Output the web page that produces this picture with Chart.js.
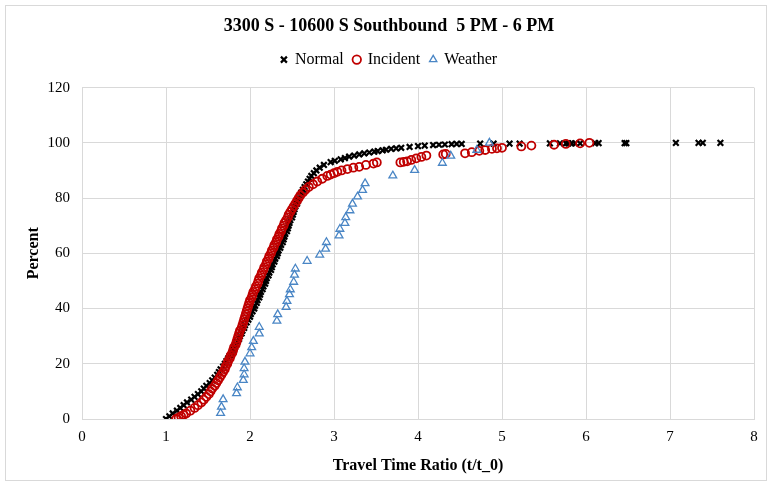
<!DOCTYPE html>
<html>
<head>
<meta charset="utf-8">
<script src="https://cdn.jsdelivr.net/npm/chart.js@4.4.0/dist/chart.umd.min.js"></script>
<style>
  html, body { margin: 0; padding: 0; background: #fff; }
  #wrap { position: relative; width: 772px; height: 485px; }
</style>
</head>
<body>
<div id="wrap"><canvas id="graph"></canvas></div>
<script>
// Normal (black x)
var normalRatio = [1.00,1.04,1.08,1.13,1.17,1.21,1.25,1.30,1.34,1.38,1.42,1.45,1.48,1.52,1.55,1.58,1.61,1.63,1.65,1.68,
  1.70,1.72,1.74,1.76,1.78,1.80,1.82,1.84,1.85,1.87,1.88,1.90,1.91,1.93,1.94,1.96,1.98,2.00,2.01,2.03,
  2.05,2.06,2.08,2.09,2.11,2.12,2.13,2.15,2.16,2.18,2.19,2.20,2.22,2.23,2.25,2.26,2.27,2.29,2.30,2.32,
  2.33,2.34,2.36,2.37,2.39,2.40,2.41,2.42,2.44,2.45,2.46,2.47,2.48,2.50,2.51,2.52,2.53,2.54,2.56,2.57,
  2.58,2.60,2.61,2.63,2.65,2.67,2.69,2.71,2.73,2.76,2.79,2.83,2.88,2.96,3.01,3.08,3.13,3.18,3.24,3.30,
  3.36,3.42,3.48,3.52,3.58,3.62,3.68,3.74,3.80,3.90,4.00,4.08,4.18,4.25,4.32,4.40,4.46,4.52,4.74,4.90,
  5.09,5.21,5.57,5.69,5.76,5.79,5.83,5.87,5.93,6.11,6.15,6.46,6.48,7.07,7.34,7.39,7.60];
var normalPct = [0,1,2,3,4,5,6,7,8,9,10,11,12,13,14,15,16,17,18,19,
  20,21,22,23,24,25,26,27,28,29,30,31,32,33,34,35,36,37,38,39,
  40,41,42,43,44,45,46,47,48,49,50,51,52,53,54,55,56,57,58,59,
  60,61,62,63,64,65,66,67,68,69,70,71,72,73,74,75,76,77,78,79,
  80,81,82,83,84,85,86,87,88,89,90,91,92,93,93.5,94,94.5,95,95.4,95.8,
  96.2,96.5,96.8,97,97.3,97.5,97.8,98,98.2,98.5,98.8,99,99.2,99.3,99.4,99.5,99.6,99.6,99.7,99.7,
  99.7,99.7,99.8,99.8,99.8,99.8,99.8,99.8,99.8,99.9,99.9,99.9,99.9,100,100,100,100];

// Incident (red circles)
var incidentRatio = [1.12,1.15,1.18,1.21,1.24,1.29,1.34,1.38,1.42,1.45,1.48,1.51,1.53,1.55,1.58,1.60,1.62,1.64,1.66,1.68,
  1.70,1.71,1.73,1.74,1.76,1.77,1.79,1.80,1.81,1.83,1.84,1.85,1.86,1.87,1.88,1.90,1.91,1.92,1.93,1.94,
  1.95,1.96,1.97,1.98,1.99,2.00,2.02,2.03,2.04,2.06,2.07,2.09,2.10,2.11,2.13,2.14,2.16,2.17,2.19,2.20,
  2.22,2.23,2.25,2.26,2.28,2.29,2.31,2.32,2.34,2.35,2.37,2.38,2.40,2.41,2.43,2.45,2.46,2.48,2.50,2.52,
  2.54,2.56,2.58,2.60,2.63,2.66,2.70,2.75,2.80,2.86,2.92,2.96,3.00,3.04,3.09,
  3.16,3.23,3.30,3.38,3.47,3.51,3.79,3.83,3.87,3.92,3.98,4.04,4.10,4.30,4.33,4.56,4.64,4.73,4.80,4.88,
  4.94,5.00,5.23,5.35,5.62,5.76,5.93,6.04];
var incidentPct = [0,0.5,1,1.5,2,3,4,5,6,7,8,9,10,11,12,13,14,15,16,17,
  18,19,20,21,22,23,24,25,26,27,28,29,30,31,32,33,34,35,36,37,
  38,39,40,41,42,43,44,45,46,47,48,49,50,51,52,53,54,55,56,57,
  58,59,60,61,62,63,64,65,66,67,68,69,70,71,72,73,74,75,76,77,
  78,79,80,81,82,83,84,85,86,87,88,88.5,89,89.5,90,
  90.5,91,91.3,92,92.5,92.9,92.9,93.1,93.3,93.8,94.4,94.9,95.4,95.8,96,96.2,96.6,97.1,97.4,97.8,
  98,98.2,98.7,99,99.3,99.6,99.8,100];

// Weather (blue triangles)
var weatherRatio = [1.65,1.66,1.68,1.84,1.85,1.92,1.93,1.93,1.94,2.00,2.02,2.04,2.11,2.11,2.32,2.33,2.43,2.44,2.47,2.48,
  2.52,2.53,2.54,2.68,2.83,2.90,2.91,3.06,3.07,3.13,3.14,3.19,3.22,3.28,3.34,3.37,3.70,3.96,4.29,4.39,
  4.70,4.85];
var weatherPct = [2.1,4.4,7.1,9.3,11.4,14.1,16.1,18.3,20.7,23.7,25.9,28.2,30.9,33.3,35.5,37.9,40.5,42.7,45.1,46.9,
  49.6,52.2,54.4,57.2,59.4,61.6,64.0,66.4,68.8,70.9,73.0,75.5,77.9,80.5,82.9,85.3,88.1,90.1,92.7,95.3,
  97.4,100];

var xTicks = [0,1,2,3,4,5,6,7,8];
var yTicks = [0,20,40,60,80,100,120];

function pairs(xs, ys) {
  return xs.map(function (x, i) { return { x: x, y: ys[i] }; });
}

var serif = "'Liberation Serif', 'Times New Roman', serif";

// white background + light frame round the whole chart
var frame = {
  id: 'frame',
  beforeDraw: function (chart) {
    var ctx = chart.ctx;
    ctx.save();
    ctx.fillStyle = '#fff';
    ctx.fillRect(0, 0, chart.width, chart.height);
    ctx.strokeStyle = '#d9d9d9';
    ctx.lineWidth = 1;
    ctx.strokeRect(5.5, 5.5, 761, 475);
    ctx.restore();
  }
};

var config = {
  type: 'scatter',
  data: {
    datasets: [
      {
        label: 'Normal',
        data: pairs(normalRatio, normalPct),
        pointStyle: 'crossRot',
        pointRadius: 4,
        borderWidth: 2.2,
        borderColor: '#000',
        backgroundColor: '#000',
        order: 3
      },
      {
        label: 'Incident',
        data: pairs(incidentRatio, incidentPct),
        pointStyle: 'circle',
        pointRadius: 4,
        borderWidth: 1.8,
        borderColor: '#c00000',
        backgroundColor: 'rgba(0,0,0,0)',
        order: 2
      },
      {
        label: 'Weather',
        data: pairs(weatherRatio, weatherPct),
        pointStyle: 'triangle',
        pointRadius: 4.5,
        borderWidth: 1.3,
        borderColor: '#4a86c5',
        backgroundColor: 'rgba(0,0,0,0)',
        order: 1
      }
    ]
  },
  options: {
    responsive: true,
    maintainAspectRatio: false,
    animation: false,
    layout: { padding: { left: 24, right: 18, top: 0, bottom: 0 } },
    elements: { point: { hoverRadius: 4 } },
    plugins: {
      title: {
        display: true,
        text: '3300 S - 10600 S Southbound  5 PM - 6 PM',
        color: '#000',
        font: { family: serif, size: 18, weight: 'bold' },
        padding: { top: 16, bottom: 4 }
      },
      // spacer between legend and plot
      subtitle: {
        display: true,
        text: '',
        weight: 500,
        font: { size: 1, lineHeight: 1 },
        padding: { top: 0, bottom: 9 }
      },
      legend: {
        display: true,
        position: 'top',
        labels: {
          usePointStyle: true,
          boxWidth: 6,
          boxHeight: 6,
          padding: 10,
          color: '#000',
          font: { family: serif, size: 16 },
          sort: function (a, b) { return a.datasetIndex - b.datasetIndex; }
        }
      },
      tooltip: { enabled: false }
    },
    scales: {
      x: {
        type: 'linear',
        min: 0,
        max: 8,
        afterBuildTicks: function (scale) {
          scale.ticks = xTicks.map(function (v) { return { value: v }; });
        },
        afterFit: function (scale) { scale.height = 66; },
        grid: { color: '#d9d9d9', drawTicks: false },
        border: { color: '#d9d9d9' },
        ticks: { color: '#000', padding: 9, font: { family: serif, size: 15 } },
        title: {
          display: true,
          text: 'Travel Time Ratio (t/t_0)',
          color: '#000',
          font: { family: serif, size: 16, weight: 'bold' },
          padding: { top: 6, bottom: 10 }
        }
      },
      y: {
        type: 'linear',
        min: 0,
        max: 120,
        afterBuildTicks: function (scale) {
          scale.ticks = yTicks.map(function (v) { return { value: v }; });
        },
        afterFit: function (scale) { scale.width = 58; },
        grid: { color: '#d9d9d9', drawTicks: false },
        border: { color: '#d9d9d9' },
        ticks: { color: '#000', padding: 12, font: { family: serif, size: 15 } },
        title: {
          display: true,
          text: 'Percent',
          color: '#000',
          font: { family: serif, size: 16, weight: 'bold' },
          padding: { top: 0, bottom: 4 }
        }
      }
    }
  },
  plugins: [frame]
};

var myChart = new Chart(document.getElementById('graph'), config);
</script>
</body>
</html>
